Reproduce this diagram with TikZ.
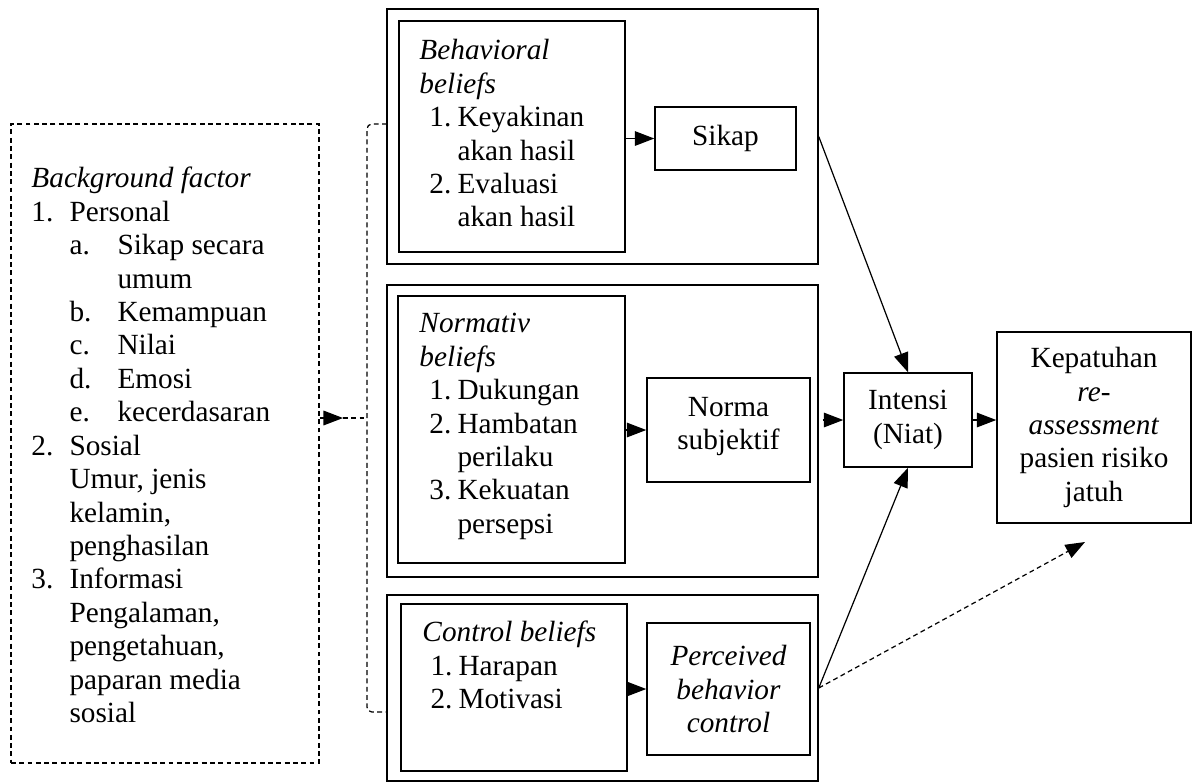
\documentclass[tikz,border=0pt]{standalone}
\usepackage{fontspec}
\setmainfont{Liberation Serif}
\usetikzlibrary{arrows.meta,fit}
\begin{document}
\begin{tikzpicture}[x=0.41pt,y=-0.41pt,
  box/.style={draw, line width=0.6pt, inner sep=0pt},
  txt/.style={font=\fontsize{12}{13.7}\selectfont},
  lst/.style={txt, align=left, anchor=north west, inner sep=0pt},
  ctr/.style={txt, align=center, inner sep=0pt},
  arr/.style={-{Triangle[length=8pt,width=6pt]}, line width=0.5pt},
  dsh/.style={dash pattern=on 2pt off 1.4pt, line width=0.5pt}]
\useasboundingbox (0,0) rectangle (1198,782);

% left dashed box
\node (bg) [box, dsh, fit={(11,124) (319,763)}] {};
\node (bgt) [lst] at (31,164) {\strut\textit{Background factor}\\
\makebox[15.6pt][l]{1.}Personal\\
\hspace*{15.6pt}\makebox[19.7pt][l]{a.}Sikap secara\\
\hspace*{35.3pt}umum\\
\hspace*{15.6pt}\makebox[19.7pt][l]{b.}Kemampuan\\
\hspace*{15.6pt}\makebox[19.7pt][l]{c.}Nilai\\
\hspace*{15.6pt}\makebox[19.7pt][l]{d.}Emosi\\
\hspace*{15.6pt}\makebox[19.7pt][l]{e.}kecerdasaran\\
\makebox[15.6pt][l]{2.}Sosial\\
\hspace*{15.6pt}Umur, jenis\\
\hspace*{15.6pt}kelamin,\\
\hspace*{15.6pt}penghasilan\\
\makebox[15.6pt][l]{3.}Informasi\\
\hspace*{15.6pt}Pengalaman,\\
\hspace*{15.6pt}pengetahuan,\\
\hspace*{15.6pt}paparan media\\
\hspace*{15.6pt}sosial};

% bracket
\coordinate (brk) at (367,418);
\coordinate (atip) at (343,418);
\draw[dsh, rounded corners=2pt] (387,124) -- (367,124) -- (367,712) -- (387,712);
\draw[arr] (bg.east |- brk) -- (atip);
\draw[dsh] (atip) -- (brk);

% group 1
\node (b1) [box, fit={(387,9) (818,264)}] {};
\node (i1) [box, fit={(399,21) (625,252)}] {};
\node (i1t) [lst] at (419,36) {\strut\textit{Behavioral}\\
\textit{beliefs}\\
\hspace*{4.1pt}\makebox[11.5pt][l]{1.}Keyakinan\\
\hspace*{15.6pt}akan hasil\\
\hspace*{4.1pt}\makebox[11.5pt][l]{2.}Evaluasi\\
\hspace*{15.6pt}akan hasil};
\node (sikap) [box, fit={(655,107) (796,170)}] {};
\node (sikapt) [ctr] at (sikap.center) {Sikap};
\draw[arr] (i1.east |- sikap) -- (sikap);

% group 2
\node (b2) [box, fit={(387,285) (818,577)}] {};
\node (i2) [box, fit={(398,296) (625,563)}] {};
\node (i2t) [lst] at (419,309) {\strut\textit{Normativ}\\
\textit{beliefs}\\
\hspace*{4.1pt}\makebox[11.5pt][l]{1.}Dukungan\\
\hspace*{4.1pt}\makebox[11.5pt][l]{2.}Hambatan\\
\hspace*{15.6pt}perilaku\\
\hspace*{4.1pt}\makebox[11.5pt][l]{3.}Kekuatan\\
\hspace*{15.6pt}persepsi};
\node (norma) [box, fit={(647,378) (810,482)}] {};
\node (normat) [ctr] at ([yshift=1.5pt]norma.center) {Norma\\subjektif};
\draw[arr] (i2.east |- norma) -- (norma);

% group 3
\node (b3) [box, fit={(387,595) (818,781)}] {};
\node (i3) [box, fit={(401,604) (627,771)}] {};
\node (i3t) [lst] at (422,618) {\strut\textit{Control beliefs}\\
\hspace*{3.3pt}\makebox[11.5pt][l]{1.}Harapan\\
\hspace*{3.3pt}\makebox[11.5pt][l]{2.}Motivasi};
\node (pbc) [box, fit={(647,623) (810,755)}] {};
\node (pbct) [ctr] at (pbc.center) {\textit{Perceived}\\\textit{behavior}\\\textit{control}};
\draw[arr] (i3.east |- pbc) -- (pbc);

% right side
\node (int) [box, fit={(844,373) (972,467)}] {};
\node (intt) [ctr] at (int.center) {Intensi\\(Niat)};
\node (kep) [box, fit={(997,332) (1191,523)}] {};
\node (kept) [ctr] at (kep.center) {Kepatuhan\\\textit{re-}\\\textit{assessment}\\pasien risiko\\jatuh};
\coordinate (kt) at (1085,542);

\draw[arr] (b1.east) -- (int.north);
\draw[arr] ([xshift=1.6pt]b2.east |- int.west) -- (int.west);
\draw[arr] (b3.east) -- (int.south);
\draw[arr] (int.east) -- (int.east -| kep.west);
\draw[arr, dsh] (b3.east) -- (kt);
\end{tikzpicture}
\end{document}
